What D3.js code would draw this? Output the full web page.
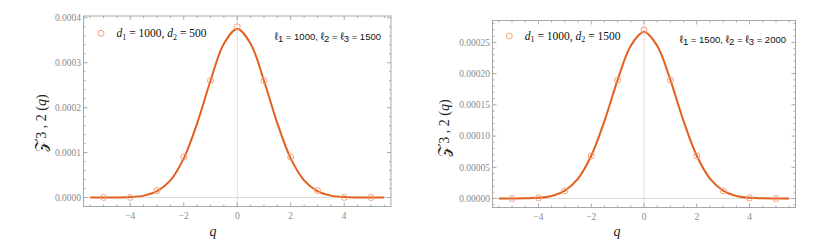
<!DOCTYPE html>
<html>
<head>
<meta charset="utf-8">
<script src="https://cdn.jsdelivr.net/npm/d3@7"></script>
<style>
  body { margin: 0; background: #fff; }
  svg { display: block; }
  .tick-label { font-family: "Liberation Serif"; font-size: 9.5px; fill: #8a8a8a; }
  .axis-title { font-family: "Liberation Serif"; fill: #222; }
  .legend { font-family: "Liberation Serif"; font-size: 11.5px; fill: #111; }
  .note { font-family: "Liberation Sans"; font-size: 9.5px; fill: #111; }
</style>
</head>
<body>
<div id="chart"></div>
<script>
// sample points (circles) at integer q
const qSamples = [-5, -4, -3, -2, -1, 0, 1, 2, 3, 4, 5];
const samplesA = [0, 0.0000002, 0.0000155, 0.00009, 0.00026, 0.00038, 0.00026, 0.00009, 0.0000155, 0.0000002, 0];
const samplesB = [0, 0.000001, 0.0000122, 0.0000683, 0.0001895, 0.00027, 0.0001895, 0.0000683, 0.0000122, 0.000001, 0];

// smooth curve every 0.5 in q
const qCurve = [-5.5, -5, -4.5, -4, -3.5, -3, -2.5, -2, -1.5, -1, -0.5, 0,
                0.5, 1, 1.5, 2, 2.5, 3, 3.5, 4, 4.5, 5, 5.5];
const curveA = [0, 0.00000003, 0.0000002, 0.000001, 0.0000042, 0.000014, 0.000038, 0.000087, 0.000165, 0.00026, 0.000342, 0.000375,
                0.000342, 0.00026, 0.000165, 0.000087, 0.000038, 0.000014, 0.0000042, 0.000001, 0.0000002, 0.00000003, 0];
const curveB = [0, 0.00000005, 0.00000027, 0.0000011, 0.0000041, 0.0000125, 0.0000318, 0.0000684, 0.000124, 0.0001895, 0.0002447, 0.0002665,
                0.0002447, 0.0001895, 0.000124, 0.0000684, 0.0000318, 0.0000125, 0.0000041, 0.0000011, 0.00000027, 0.00000005, 0];

const xMajor = [-4, -2, 0, 2, 4];
const yMajorA = [0, 0.0001, 0.0002, 0.0003, 0.0004];
const yMajorB = [0, 0.00005, 0.0001, 0.00015, 0.0002, 0.00025];

const curveColour = "#e2601e";
const pointColour = "#f2a27c";

const svg = d3.select("#chart").append("svg")
    .attr("width", 831)
    .attr("height", 250);

function range(a, b, step) {
    const out = [];
    const n = Math.round((b - a) / step);
    for (let i = 0; i <= n; i++) out.push(a + i * step);
    return out;
}

function drawPanel(cfg) {
    const {frame, xDomain, yDomain, yMajor, yMinorStep, yFormat, samples, curve} = cfg;

    const x = d3.scaleLinear().domain(xDomain).range([frame.left, frame.right]);
    const y = d3.scaleLinear().domain(yDomain).range([frame.bottom, frame.top]);
    const g = svg.append("g");

    // light axes through origin
    g.append("line")
        .attr("x1", x(0)).attr("x2", x(0))
        .attr("y1", frame.top).attr("y2", frame.bottom)
        .attr("stroke", "#dcdcdc").attr("stroke-width", 1);
    g.append("line")
        .attr("x1", frame.left).attr("x2", frame.right)
        .attr("y1", y(0)).attr("y2", y(0))
        .attr("stroke", "#dcdcdc").attr("stroke-width", 1);

    // frame
    g.append("rect")
        .attr("x", frame.left).attr("y", frame.top)
        .attr("width", frame.right - frame.left)
        .attr("height", frame.bottom - frame.top)
        .attr("fill", "none").attr("stroke", "#a8a8a8").attr("stroke-width", 1);

    // ticks on all four sides, pointing inward
    const xMinor = range(-5.5, 5.5, 0.5).filter(v => !xMajor.includes(v));
    const yMinor = range(yDomain[0], yDomain[1], yMinorStep)
        .map(v => Math.round(v / yMinorStep) * yMinorStep)
        .filter(v => v >= yDomain[0] && v <= yDomain[1])
        .filter(v => !yMajor.some(m => Math.abs(m - v) < yMinorStep / 10));

    const tickStroke = "#a8a8a8";
    const xTicks = xMajor.map(v => ({v, len: 4})).concat(xMinor.map(v => ({v, len: 2})));
    const yTicks = yMajor.map(v => ({v, len: 4})).concat(yMinor.map(v => ({v, len: 2})));

    g.selectAll(".xt-b").data(xTicks).join("line")
        .attr("x1", d => x(d.v)).attr("x2", d => x(d.v))
        .attr("y1", frame.bottom).attr("y2", d => frame.bottom - d.len)
        .attr("stroke", tickStroke);
    g.selectAll(".xt-t").data(xTicks).join("line")
        .attr("x1", d => x(d.v)).attr("x2", d => x(d.v))
        .attr("y1", frame.top).attr("y2", d => frame.top + d.len)
        .attr("stroke", tickStroke);
    g.selectAll(".yt-l").data(yTicks).join("line")
        .attr("x1", frame.left).attr("x2", d => frame.left + d.len)
        .attr("y1", d => y(d.v)).attr("y2", d => y(d.v))
        .attr("stroke", tickStroke);
    g.selectAll(".yt-r").data(yTicks).join("line")
        .attr("x1", frame.right).attr("x2", d => frame.right - d.len)
        .attr("y1", d => y(d.v)).attr("y2", d => y(d.v))
        .attr("stroke", tickStroke);

    // tick labels
    const xFmt = d3.format("d");
    g.selectAll(".xl").data(xMajor).join("text")
        .attr("class", "tick-label")
        .attr("x", d => x(d))
        .attr("y", frame.bottom + 12.5)
        .attr("text-anchor", "middle")
        .text(d => xFmt(d));
    g.selectAll(".yl").data(yMajor).join("text")
        .attr("class", "tick-label")
        .attr("x", frame.left - 2.5)
        .attr("y", d => y(d) + 3.3)
        .attr("text-anchor", "end")
        .text(d => d3.format(yFormat)(d));

    // axis titles
    g.append("text")
        .attr("class", "axis-title")
        .attr("x", cfg.xTitle[0]).attr("y", cfg.xTitle[1])
        .attr("text-anchor", "middle")
        .style("font-size", "14px").style("font-style", "italic")
        .text("q");

    const yt = g.append("text")
        .attr("class", "axis-title")
        .attr("transform", `translate(${cfg.yTitle[0]},${cfg.yTitle[1]}) rotate(-90)`)
        .attr("text-anchor", "middle")
        .style("font-size", "14px");
    yt.append("tspan").style("font-size", "16px").text("\u{1D4B5}");
    yt.append("tspan").attr("dx", 1).text("3 , 2 (");
    yt.append("tspan").style("font-style", "italic").text("q");
    yt.append("tspan").text(")");

    // curve
    const curveData = qCurve.map((q, i) => ({q, v: curve[i]}));
    g.append("path")
        .datum(curveData)
        .attr("fill", "none")
        .attr("stroke", curveColour)
        .attr("stroke-width", 2)
        .attr("d", d3.line().x(d => x(d.q)).y(d => y(d.v)).curve(d3.curveCatmullRom.alpha(0.5)));

    // sample circles
    g.selectAll(".pt").data(qSamples.map((q, i) => ({q, v: samples[i]}))).join("circle")
        .attr("cx", d => x(d.q)).attr("cy", d => y(d.v))
        .attr("r", 3)
        .attr("fill", "none")
        .attr("stroke", pointColour)
        .attr("stroke-width", 1);

    // legend
    g.append("circle")
        .attr("cx", cfg.legend[0]).attr("cy", cfg.legend[1])
        .attr("r", 3).attr("fill", "none")
        .attr("stroke", pointColour).attr("stroke-width", 1);
    const lt = g.append("text")
        .attr("class", "legend")
        .attr("x", cfg.legend[0] + 15.5).attr("y", cfg.legend[1] + 3.8);
    lt.append("tspan").style("font-style", "italic").text("d");
    lt.append("tspan").attr("dy", 2.5).style("font-size", "8px").text("1");
    lt.append("tspan").attr("dy", -2.5).text(` = ${cfg.d1}, `);
    lt.append("tspan").style("font-style", "italic").text("d");
    lt.append("tspan").attr("dy", 2.5).style("font-size", "8px").text("2");
    lt.append("tspan").attr("dy", -2.5).text(` = ${cfg.d2}`);

    // parameter note
    const nt = g.append("text")
        .attr("class", "note")
        .attr("x", cfg.note[0]).attr("y", cfg.note[1])
        .attr("text-anchor", "end");
    nt.append("tspan").style("font-size", "11px").text("\u2113");
    nt.append("tspan").attr("dy", 2).text("1");
    nt.append("tspan").attr("dy", -2).text(` = ${cfg.l1}, `);
    nt.append("tspan").style("font-size", "11px").text("\u2113");
    nt.append("tspan").attr("dy", 2).text("2");
    nt.append("tspan").attr("dy", -2).text(" = ");
    nt.append("tspan").style("font-size", "11px").text("\u2113");
    nt.append("tspan").attr("dy", 2).text("3");
    nt.append("tspan").attr("dy", -2).text(` = ${cfg.l23}`);
}

drawPanel({
    frame: {left: 83.5, right: 391, top: 16, bottom: 206.5},
    xDomain: [-5.75, 5.75],
    yDomain: [-0.00002, 0.000404],
    yMajor: yMajorA,
    yMinorStep: 0.00002,
    yFormat: ".4f",
    samples: samplesA,
    curve: curveA,
    xTitle: [213, 236],
    yTitle: [46, 123],
    legend: [101, 33.3],
    note: [381, 39.5],
    d1: 1000, d2: 500, l1: 1000, l23: 1500
});

drawPanel({
    frame: {left: 492.5, right: 795.5, top: 20.5, bottom: 207.5},
    xDomain: [-5.74, 5.74],
    yDomain: [-0.0000144, 0.000285],
    yMajor: yMajorB,
    yMinorStep: 0.00001,
    yFormat: ".5f",
    samples: samplesB,
    curve: curveB,
    xTitle: [617, 236],
    yTitle: [449, 128],
    legend: [509.3, 36],
    note: [786, 42.5],
    d1: 1000, d2: 1500, l1: 1500, l23: 2000
});
</script>
</body>
</html>
